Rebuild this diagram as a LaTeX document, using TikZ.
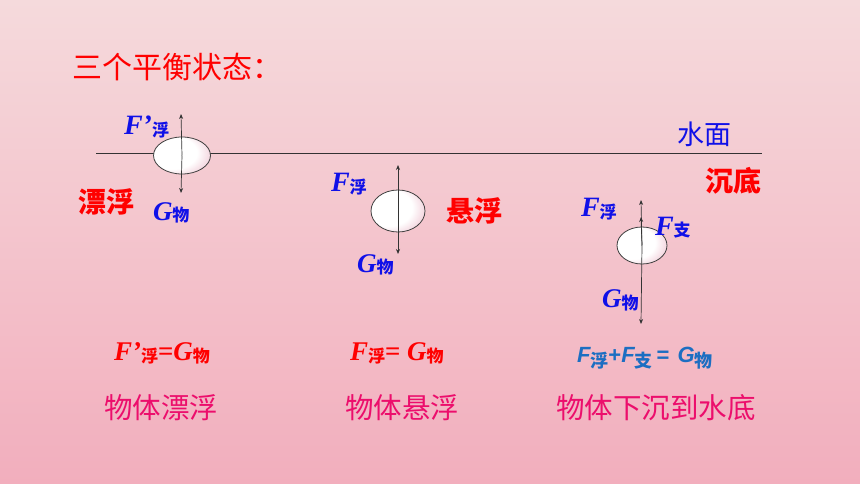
\documentclass[tikz,border=0pt]{standalone}
\usepackage{fontspec}
\setmainfont{Liberation Serif}
\newfontfamily\cjk{Noto Sans CJK SC}
\newfontfamily\arialf{Liberation Sans}
\usetikzlibrary{arrows.meta,shapes.geometric}
\definecolor{bgtop}{HTML}{F5DADC}
\definecolor{bgbot}{HTML}{F2AEBD}
\definecolor{tblue}{HTML}{1010E8}
\definecolor{tred}{HTML}{FF0000}
\definecolor{tmag}{HTML}{EC0E6C}
\definecolor{fblue}{HTML}{1C6EC2}
\definecolor{eshade}{HTML}{E9B3C4}
\pgfdeclareradialshading{ebody}{\pgfpoint{-14bp}{6bp}}{color(0bp)=(white); color(22bp)=(white); color(40bp)=(eshade); color(60bp)=(eshade)}
\newcommand{\lbl}[3]{{\fontsize{#3}{#3}\selectfont\bfseries\itshape #1}\raisebox{-0.2em}{\cjk\bfseries\fontsize{17}{17}\selectfont #2}}
\newcommand{\slb}[2]{{\arialf\bfseries\itshape #1}\raisebox{-0.25em}{\cjk\bfseries\fontsize{18}{18}\selectfont #2}}
\tikzset{
  txt/.style={inner sep=0pt, outer sep=0pt, anchor=base west},
  force/.style={txt, text=tblue},
  state/.style={txt, text=tred, font=\cjk\bfseries\fontsize{28}{28}\selectfont},
  desc/.style={txt, text=tmag, font=\cjk\fontsize{28.5}{28.5}\selectfont},
  body/.style={draw=black!75, line width=0.8pt, shading=ebody},
  farrow/.style={line width=0.7pt, draw=black!80, -{Stealth[length=5pt,width=4pt]}},
}
\begin{document}
\begin{tikzpicture}[x=1pt,y=-1pt]
\shade[top color=bgtop, bottom color=bgbot] (0,0) rectangle (860,484);
\useasboundingbox (0,0) rectangle (860,484);

% title
\node[txt, text=tred, font=\cjk\fontsize{30}{30}\selectfont] (title) at (72,79) {三个平衡状态：};

% water surface
\coordinate (wl) at (96,153);
\coordinate (wr) at (762,153);
\draw[line width=0.7pt, black!80] (wl) -- (wr);
\node[txt, text=tblue, font=\cjk\fontsize{27}{27}\selectfont] (water) at (677,145) {水面};

% floating
\node[body, ellipse, minimum width=57pt, minimum height=37pt, inner sep=0pt] (e1) at (182,155.5) {};
\coordinate (e1t) at (181,114);
\coordinate (e1b) at (181,193);
\draw[farrow] (e1.center) -- (e1t);
\draw[farrow] (e1.center) -- (e1b);
\node[force] (f1) at (124,135) {\lbl{F’}{浮}{28}};
\node[state] (s1) at (78,212) {漂浮};
\node[force] (g1) at (153,220) {\lbl{G}{物}{27}};

% suspended
\node[body, ellipse, minimum width=54pt, minimum height=42pt, inner sep=0pt] (e2) at (398,211) {};
\coordinate (e2t) at (398,165);
\coordinate (e2b) at (398,254);
\draw[farrow] (e2.center) -- (e2t);
\draw[farrow] (e2.center) -- (e2b);
\node[force] (f2) at (331,192) {\lbl{F}{浮}{28}};
\node[state] (s2) at (446,222) {悬浮};
\node[force] (g2) at (357,272) {\lbl{G}{物}{27}};

% sunk
\node[state] (s3) at (705,192) {沉底};
\node[body, ellipse, minimum width=50pt, minimum height=37pt, inner sep=0pt] (e3) at (642,245.5) {};
\coordinate (e3t) at (641,200);
\coordinate (e3s) at (641,217);
\coordinate (e3b) at (641,324);
\draw[farrow] (e3.center) -- (e3t);
\draw[farrow] (e3.center) -- (e3s);
\draw[farrow] (e3.center) -- (e3b);
\node[force] (f3) at (581,217) {\lbl{F}{浮}{28}};
\node[force] (f4) at (655,235) {\lbl{F}{支}{28}};
\node[force] (g3) at (602,307) {\lbl{G}{物}{27}};

% equations
\node[txt, text=tred] (q1) at (114,360) {\lbl{F’}{浮}{27}{\fontsize{27}{27}\selectfont\bfseries =}\lbl{G}{物}{27}};
\node[txt, text=tred] (q2) at (350,360) {\lbl{F}{浮}{27}{\fontsize{27}{27}\selectfont\bfseries = }\lbl{G}{物}{27}};
\node[txt, text=fblue, font=\fontsize{22}{22}\selectfont] (q3) at (577,362) {\slb{F}{浮}{\arialf\bfseries +}\slb{F}{支}{\arialf\bfseries\hspace{4pt}=\hspace{8pt}}\slb{G}{物}};

% descriptions
\node[desc] (d1) at (104,418) {物体漂浮};
\node[desc] (d2) at (345,418) {物体悬浮};
\node[desc] (d3) at (556,418) {物体下沉到水底};
\end{tikzpicture}
\end{document}
